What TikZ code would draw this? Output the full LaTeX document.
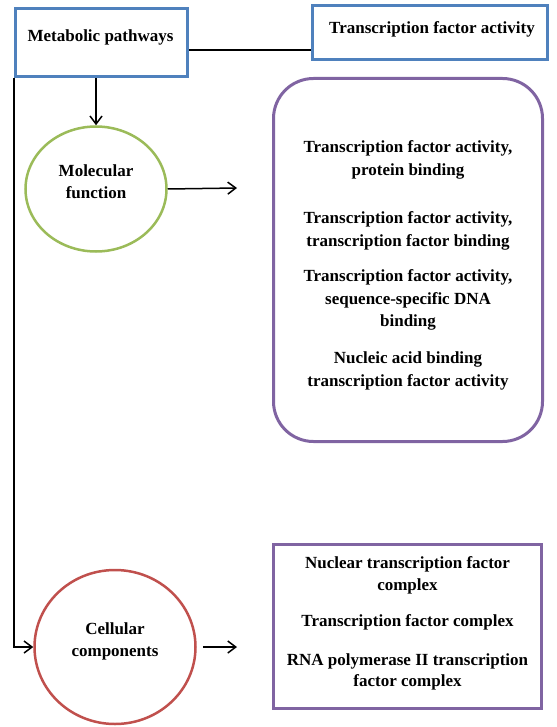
\documentclass[tikz,border=0pt]{standalone}
\usepackage{fontspec}
\setmainfont{Liberation Serif}
\usetikzlibrary{arrows.meta,shapes.geometric,positioning}
\definecolor{boxblue}{RGB}{79,129,189}
\definecolor{ovalgreen}{RGB}{155,187,89}
\definecolor{ovalred}{RGB}{192,80,77}
\definecolor{boxpurple}{RGB}{128,100,162}
\tikzset{>={Straight Barb[length=8pt,width=12pt]}}
\tikzstyle{txt}=[
	 font=\bfseries\fontsize{17}{22.5}\selectfont,
	 align=center, inner sep=0pt
    ]
\tikzstyle{bluebox}=[rectangle, draw=boxblue, line width=3pt, inner sep=0pt]
\tikzstyle{oval}=[ellipse, line width=2.5pt, inner sep=0pt]
\tikzstyle{purplebox}=[rectangle, draw=boxpurple, line width=3pt, inner sep=0pt]
\tikzstyle{link}=[line width=1.5pt]

\begin{document}
\begin{tikzpicture}[x=1pt,y=-1pt]
\useasboundingbox (0,0) rectangle (556,727);

\node[bluebox,minimum width=172pt,minimum height=68pt] (MP) at (101.5,42.5) {};
\node[txt] (MPt) at (100.5,37.8) {Metabolic pathways};
\node[bluebox,minimum width=235pt,minimum height=54pt] (TF) at (430,32.5) {};
\node[txt] (TFt) at (432,29.4) {Transcription factor activity};

\node[oval,draw=ovalgreen,minimum width=141pt,minimum height=125pt] (MF) at (96,189) {};
\node[txt,font=\bfseries\fontsize{17}{21.6}\selectfont] (MFt) at (96,181.7) {Molecular\\function};
\node[oval,draw=ovalred,minimum width=161pt,minimum height=154pt] (CC) at (115,647) {};
\node[txt,font=\bfseries\fontsize{17}{22.4}\selectfont] (CCt) at (115,641.6) {Cellular\\components};

\node[purplebox,rounded corners=40pt,minimum width=269pt,minimum height=363pt] (MFbox) at (408,260) {};
\node[txt] (MF1) at (408,160) {Transcription factor activity,\\protein binding};
\node[txt] (MF2) at (408,230.7) {Transcription factor activity,\\transcription factor binding};
\node[txt] (MF3) at (408,300.3) {Transcription factor activity,\\sequence-specific DNA\\binding};
\node[txt] (MF4) at (408,370.7) {Nucleic acid binding\\transcription factor activity};

\node[purplebox,minimum width=268pt,minimum height=164pt] (CCbox) at (407.5,626.5) {};
\node[txt,font=\bfseries\fontsize{17}{21.5}\selectfont] (CC1) at (407.5,575.2) {Nuclear transcription factor\\complex};
\node[txt] (CC2) at (407.5,622.8) {Transcription factor complex};
\node[txt,font=\bfseries\fontsize{17}{21.5}\selectfont] (CC3) at (407.5,671.9) {RNA polymerase II transcription\\factor complex};

\coordinate (MFend) at (237,188);
\coordinate (CCend) at (237,647);

\draw[link] (MP.-5) -- (MP.-5 -| TF.west);
\draw[link,->] (MP.south -| MF.north) -- (MF.north);
\draw[link,->] (MF.east) -- (MFend);
\draw[link,->] (MP.south west) |- (CC.west);
\draw[link,->] ([xshift=6pt]CC.east) -- (CCend);

\end{tikzpicture}
\end{document}
